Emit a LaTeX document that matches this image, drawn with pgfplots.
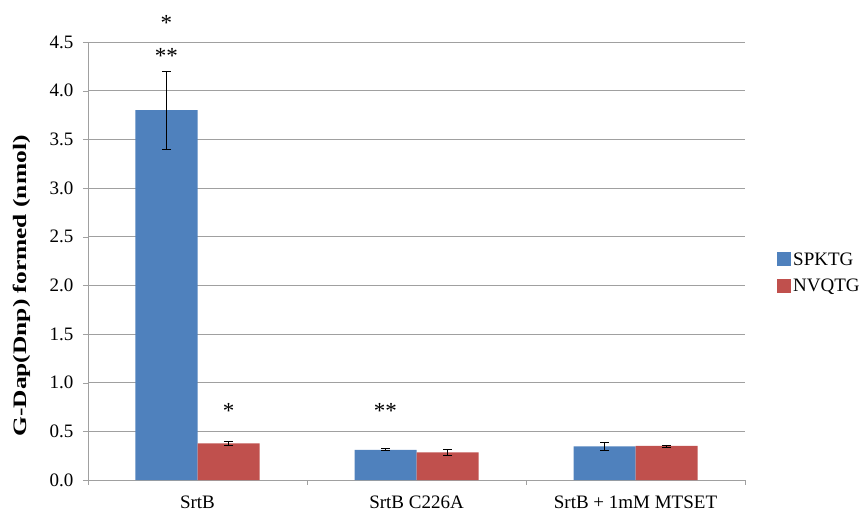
\documentclass[border=0pt]{standalone}
\usepackage{fontspec}
\setmainfont{Liberation Serif}
\usepackage{pgfplots}
\pgfplotsset{compat=1.18}
\definecolor{barblue}{HTML}{4F81BD}
\definecolor{barred}{HTML}{C0504D}
\definecolor{gridgray}{HTML}{A0A0A0}
\newcommand{\chartfont}{\fontsize{19bp}{22bp}\selectfont}
\newcommand{\starfont}{\fontsize{23bp}{26bp}\selectfont}
\newcommand{\lbl}[1]{\rule{0pt}{24.6bp}#1}

\begin{document}
\begin{tikzpicture}
\begin{axis}[
  scale only axis, width=657bp, height=438bp,
  ybar=0pt, bar width=62bp,
  xmin=-0.5, xmax=2.5, ymin=0, ymax=4.5,
  axis lines=left, axis line style={-, draw=gridgray},
  clip=false,
  ytick={0,0.5,1,1.5,2,2.5,3,3.5,4,4.5},
  /pgf/number format/assume math mode=true,
  ymajorgrids, grid style={gridgray},
  tick align=outside, major tick length=5bp, tick style={gridgray},
  xtick={-0.5,0.5,1.5,2.5}, xticklabels={},
  extra x ticks={0,1,2},
  extra x tick labels={\lbl{SrtB}, \lbl{SrtB C226A}, \lbl{SrtB + 1mM MTSET}},
  extra x tick style={major tick length=0pt, grid=none},
  tick label style={font=\chartfont, black},
  yticklabel style={xshift=-6bp, /pgf/number format/.cd, fixed, fixed zerofill, precision=1},
  ylabel={\scalebox{1.34}[1]{\textbf{G-Dap(Dnp) formed (nmol)}}},
  ylabel style={font=\chartfont, at={(axis description cs:-0.1012,0.443)}, anchor=center},
  legend style={draw=none, fill=none, font=\chartfont,
    at={(axis description cs:1,0.5)}, anchor=west, xshift=32bp, yshift=-11.5bp,
    inner sep=0pt, row sep=8bp},
  legend cell align=left,
  legend image code/.code={\fill[#1] (0bp,-7bp) rectangle (14bp,7bp);},
]

% SPKTG
\addplot[fill=barblue, draw=none,
  error bars/.cd, y dir=both, y explicit,
  error bar style={draw=black, line width=0.8bp},
  error mark options={rotate=90, draw=black, mark size=4.5bp, line width=0.8bp}]
coordinates {(0,3.80) +- (0,0.40) (1,0.31) +- (0,0.01) (2,0.345) +- (0,0.045)};

% NVQTG
\addplot[fill=barred, draw=none,
  error bars/.cd, y dir=both, y explicit,
  error bar style={draw=black, line width=0.8bp},
  error mark options={rotate=90, draw=black, mark size=4.5bp, line width=0.8bp}]
coordinates {(0,0.375) +- (0,0.02) (1,0.285) +- (0,0.03) (2,0.35) +- (0,0.01)};

\legend{SPKTG, NVQTG}

% significance marks
\node[anchor=base, font=\starfont] at (axis cs:-0.1416,4.615) {*};
\node[anchor=base, font=\starfont] at (axis cs:-0.1416,4.275) {**};
\node[anchor=base, font=\starfont] at (axis cs:0.1416,0.627) {*};
\node[anchor=base, font=\starfont] at (axis cs:0.8584,0.627) {**};
\end{axis}
\pgfresetboundingbox
\path ([shift={(-88bp,-32bp)}]current axis.south west) rectangle ([shift={(116bp,42bp)}]current axis.north east);
\end{tikzpicture}
\end{document}
